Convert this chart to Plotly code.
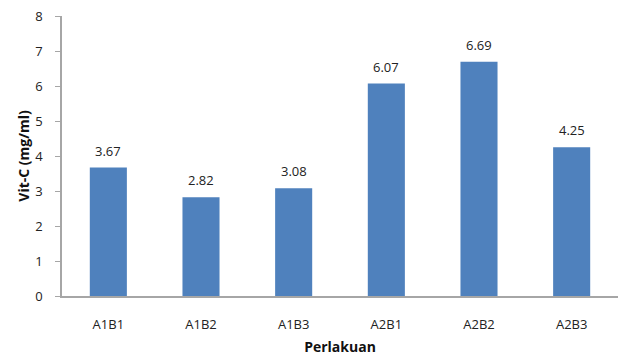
import plotly.graph_objects as go

categories = ["A1B1", "A1B2", "A1B3", "A2B1", "A2B2", "A2B3"]
values = [3.67, 2.82, 3.08, 6.07, 6.69, 4.25]
labels = ["3.67", "2.82", "3.08", "6.07", "6.69", "4.25"]

fig = go.Figure(go.Bar(
    x=categories, y=values,
    marker=dict(color="#4F81BD", line=dict(width=0)),
))

for c, v, t in zip(categories, values, labels):
    fig.add_annotation(x=c, y=v, text=t, showarrow=False, yanchor="middle",
                       yshift=17, font=dict(size=13, color="#222222", family="Open Sans"))

fig.update_layout(
    width=621, height=358,
    margin=dict(l=62, r=3, t=16, b=62),
    plot_bgcolor="white", paper_bgcolor="white",
    bargap=0.6, showlegend=False,
    font=dict(family="Open Sans", size=13, color="#222222"),
    xaxis=dict(
        showline=True, linecolor="#A6A6A6", linewidth=1.5,
        ticks="", showgrid=False, ticklabelstandoff=16,
        tickfont=dict(size=13, color="#222222"),
        title=dict(text="<b>Perlakuan</b>", font=dict(size=14, color="#111111"), standoff=10),
    ),
    yaxis=dict(
        range=[0, 8], dtick=1, showline=True, linecolor="#A6A6A6", linewidth=1.5,
        ticks="outside", ticklen=5, tickcolor="#A6A6A6", showgrid=False, zeroline=False,
        ticklabelstandoff=10,
        tickfont=dict(size=13, color="#222222"),
        title=dict(text="<b>Vit-C (mg/ml)</b>", font=dict(size=14, color="#111111"), standoff=2),
    ),
)

fig.write_html("out.html")
